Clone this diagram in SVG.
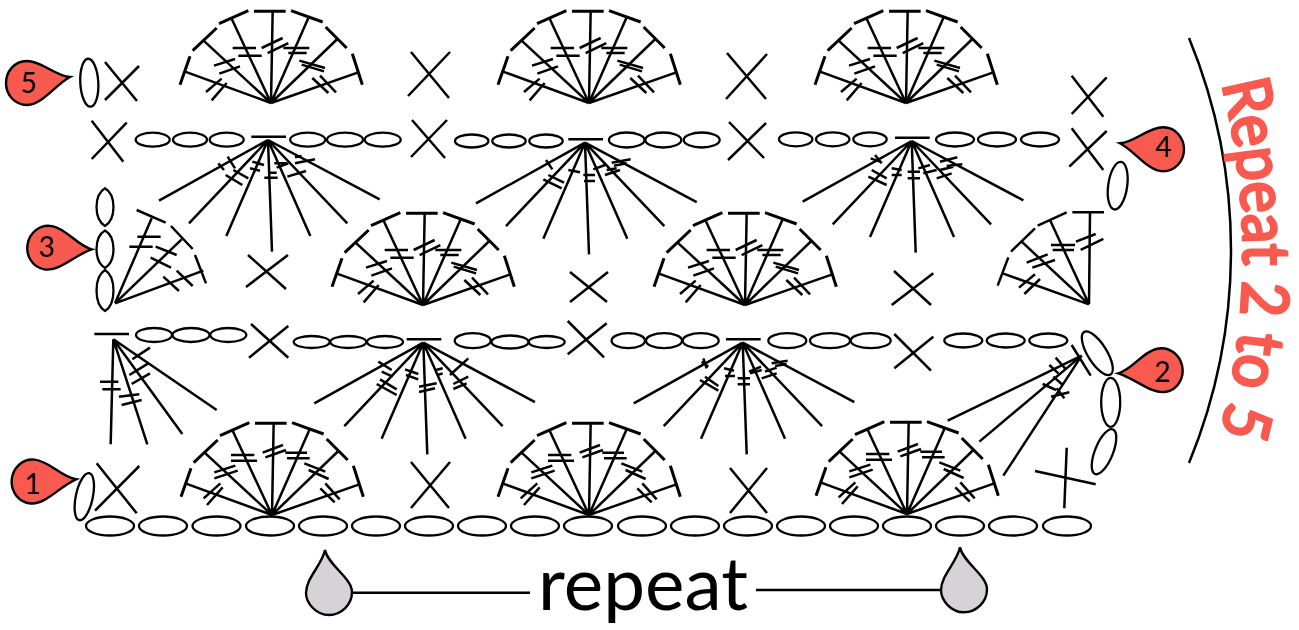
<svg xmlns="http://www.w3.org/2000/svg" width="1299" height="630" viewBox="0 0 1299 630">
<style>
.z{fill:none;stroke:#000;stroke-width:7.5}
.t{fill:none;stroke:#000;stroke-width:2.5}
.o{fill:none;stroke:#000;stroke-width:2.3}
.d{fill:#f85a50;stroke:#000;stroke-width:2.4}
.g{fill:#d5d2d8;stroke:#000;stroke-width:2.4}
.n{font-family:"Lato","Noto Sans",sans-serif;font-size:28px;fill:#000;text-anchor:middle}
</style>
<defs>
<g id="fan" class="z" transform="scale(.33333) translate(-813,-310)"><path d="M813,310L818,35M813,310L925,55M813,310L1012,118M813,310L1075,218M813,310L695,57M813,310L610,122M813,310L553,215"/><path stroke-width="9" d="M762,35H857M873,33L968,67M977,82L1040,145M1057,162L1087,255M657,72L745,33M578,153L650,85M570,170L540,255"/></g>
<path id="tickA" class="z" transform="scale(.33333) translate(-813,-310)" d="M785,145L848,115M803,160L865,130M850,145H928M865,160H920M698,145H768M715,168H785M898,183L975,205M905,195L972,215M642,198L705,178M658,222L720,200M618,277L665,237M635,302L680,250M937,235L985,280M960,228L1008,278"/>
<path id="tickB" class="z" transform="scale(.33333) translate(-815,-345)" d="M787,158L848,135M795,172L857,150M855,158H920M860,175H928M692,165H762M692,182H770M912,190L975,215M925,210L985,237M642,217L705,197M642,235L712,212M610,295L660,250M620,315L667,262M960,265L1003,307M975,250L1018,298"/>
<g id="ifan" class="z" transform="scale(.33333)"><path d="M0,0L-327,182M0,0L-237,250M0,0L-125,288M0,0L12,335M0,0L127,288M0,0L238,250M0,0L335,178"/><path d="M-50,-10H54"/></g>
<path id="drop" d="M0,0C-15,-1 -28,-16 -43,-16C-56,-16 -64,-5 -64,6C-64,18 -55,28 -43,28C-28,28 -15,8 0,0Z"/>
<path id="gdrop" d="M0,0C3,15 27,28 27,42C27,55 16,65 4,65C-9,65 -19,53 -19,43C-19,28 -3,15 0,0Z"/>
</defs>

<g id="connectors" class="t"><path d="M352,592.700H530M756,590H941"/></g>

<g id="row1-base" class="o">
<ellipse cx="110" cy="526" rx="24" ry="9.500"/><ellipse cx="163" cy="526" rx="24" ry="9.500"/><ellipse cx="216.500" cy="526" rx="24" ry="9.500"/><ellipse cx="270" cy="526" rx="24" ry="9.500"/><ellipse cx="323" cy="526" rx="24" ry="9.500"/><ellipse cx="376" cy="526" rx="24" ry="9.500"/><ellipse cx="429" cy="526" rx="24" ry="9.500"/><ellipse cx="482" cy="526" rx="24" ry="9.500"/><ellipse cx="535" cy="526" rx="24" ry="9.500"/><ellipse cx="588" cy="526" rx="24" ry="9.500"/><ellipse cx="642" cy="526" rx="24" ry="9.500"/><ellipse cx="695" cy="526" rx="24" ry="9.500"/><ellipse cx="748" cy="526" rx="24" ry="9.500"/><ellipse cx="801" cy="526" rx="24" ry="9.500"/><ellipse cx="854" cy="526" rx="24" ry="9.500"/><ellipse cx="907" cy="526" rx="24" ry="9.500"/><ellipse cx="960" cy="526" rx="24" ry="9.500"/><ellipse cx="1013" cy="526" rx="24" ry="9.500"/><ellipse cx="1067" cy="526" rx="24" ry="9.500"/>
</g>

<g id="chains-row2" class="o">
<ellipse cx="154" cy="335" rx="18" ry="7"/><ellipse cx="191" cy="335" rx="18.500" ry="7"/><ellipse cx="228.300" cy="335" rx="18" ry="7"/>
<ellipse cx="311.700" cy="342" rx="18" ry="6"/><ellipse cx="348.300" cy="342" rx="18" ry="6"/><ellipse cx="385" cy="342" rx="18" ry="6"/>
<ellipse cx="472.700" cy="340.700" rx="18" ry="7.500"/><ellipse cx="510" cy="342" rx="18.500" ry="6.500"/><ellipse cx="546.700" cy="342" rx="18" ry="6"/>
<ellipse cx="628.300" cy="340.700" rx="16.700" ry="7.500"/><ellipse cx="664" cy="340.700" rx="18" ry="7.500"/><ellipse cx="700.700" cy="340.700" rx="18" ry="7.500"/>
<ellipse cx="787.300" cy="340.700" rx="19" ry="7.500"/><ellipse cx="830" cy="340.700" rx="20" ry="7.500"/><ellipse cx="870.700" cy="340.700" rx="20" ry="7.500"/>
<ellipse cx="963.300" cy="340.500" rx="19" ry="7"/><ellipse cx="1005.700" cy="340.500" rx="19" ry="7"/><ellipse cx="1048.300" cy="340.500" rx="19" ry="7"/>
</g>
<g id="chains-row4" class="o">
<ellipse cx="152.700" cy="139.700" rx="17" ry="7"/><ellipse cx="190" cy="139.700" rx="17" ry="7"/><ellipse cx="226.700" cy="139.700" rx="17" ry="7"/>
<ellipse cx="307.700" cy="139.700" rx="17.500" ry="7"/><ellipse cx="345" cy="139.700" rx="18" ry="7"/><ellipse cx="382.700" cy="139.700" rx="18" ry="7"/>
<ellipse cx="471.700" cy="141" rx="16.700" ry="6.500"/><ellipse cx="509" cy="141" rx="16.700" ry="6.500"/><ellipse cx="546" cy="141" rx="16.700" ry="6.500"/>
<ellipse cx="626.700" cy="140" rx="17.800" ry="7.500"/><ellipse cx="663.300" cy="140" rx="18" ry="7.500"/><ellipse cx="701.700" cy="140" rx="18" ry="7.500"/>
<ellipse cx="795.700" cy="139.300" rx="16.700" ry="7"/><ellipse cx="832.700" cy="139.300" rx="16.700" ry="7"/><ellipse cx="870" cy="139.300" rx="16.700" ry="7"/>
<ellipse cx="955" cy="139.500" rx="19" ry="7"/><ellipse cx="997" cy="139.500" rx="19" ry="7"/><ellipse cx="1040" cy="139.500" rx="19" ry="7"/>
</g>
<g id="turning-chains" class="o">
<ellipse cx="89.300" cy="82.700" rx="9" ry="24" transform="rotate(-3 89.300 82.700)"/>
<path d="M105,188.300C93.700,195 93.700,219 105,226C116.300,219 116.300,195 105,188.300Z"/>
<path d="M105,230.500C93.700,237 93.700,261 105,268C116.300,261 116.300,237 105,230.500Z"/>
<path d="M105,270C93.700,277 93.700,304 105,311C116.300,304 116.300,277 105,270Z"/>
<ellipse cx="84.300" cy="496.700" rx="8.500" ry="24" transform="rotate(12 84.300 496.700)"/>
<ellipse cx="1117.700" cy="185.700" rx="9.500" ry="24" transform="rotate(8 1117.700 185.700)"/>
<ellipse cx="1097.300" cy="353.300" rx="9.500" ry="25" transform="rotate(-32 1097.300 353.300)"/>
<ellipse cx="1110.700" cy="402.300" rx="9.500" ry="24.500"/>
<ellipse cx="1104" cy="451.700" rx="9" ry="24" transform="rotate(22 1104 451.700)"/>
</g>

<g id="crosses" class="t">
<path id="x1" d="M105,62L137,101M105,100L139,66"/>
<path id="x2" d="M411,52L449,98M408,96L450,52"/>
<path id="x3" d="M727,53L766,99M726,99L767,54"/>
<path id="x4" d="M1071.700,75.700L1103.300,116.700M1071.700,114L1106.700,77.300"/>
<path id="x5" d="M91.700,120.700L123.300,161.700M91.700,159L126.700,122.700"/>
<path id="x6" d="M412,120L445,158M411,157L447,120"/>
<path id="x7" d="M729,122L764,158M728,160L766,123"/>
<path id="x8" d="M1071.700,128.300L1103.300,170M1069.300,166.700L1106.700,131"/>
<path id="x9" d="M248,255L286,289M246,287L288,255"/>
<path id="x10" d="M570,272L607,302M570,302L608,272"/>
<path id="x11" d="M894,271L931,305M891.700,305L933.300,273.300"/>
<path id="x12" d="M251,324L288.300,357.700M249,357.700L288.300,326"/>
<path id="x13" d="M567.700,321L604,357.300M567.700,354.300L606.700,323.300"/>
<path id="x14" d="M894.300,334L931,370.700M894.300,368.300L933.300,336.700"/>
<path id="x15" d="M96.700,463.300L136.700,513.300M95,510.700L139.300,466"/>
<path id="x16" d="M411,462L449,508M411,508L450,462"/>
<path id="x17" d="M730,468L767,513M730,513L767,468"/>
<path id="x18" d="M1066.700,447.700L1064.300,508.300M1035,471L1095.700,484.300"/>
</g>

<g id="fan-r5-1"><use href="#fan" x="271" y="103"/><use href="#tickA" x="271" y="103"/></g>
<g id="fan-r5-2"><use href="#fan" x="589" y="103"/><use href="#tickA" x="589" y="103"/></g>
<g id="fan-r5-3"><use href="#fan" x="906" y="103"/><use href="#tickA" x="906" y="103"/></g>
<g id="fan-r3-1"><use href="#fan" x="423" y="305"/><use href="#tickA" x="423" y="305"/></g>
<g id="fan-r3-2"><use href="#fan" x="745" y="305"/><use href="#tickA" x="745" y="305"/></g>
<g id="fan-r1-1"><use href="#fan" x="272" y="515"/><use href="#tickB" x="272" y="515"/></g>
<g id="fan-r1-2"><use href="#fan" x="589" y="515"/><use href="#tickB" x="589" y="515"/></g>
<g id="fan-r1-3"><use href="#fan" x="907" y="514"/><use href="#tickB" x="907" y="514"/></g>

<g id="fan-r3-left" class="z" transform="translate(0,180) scale(.33333)"><path d="M345,370L455,115M345,370L545,178M345,370L610,272M410,90L497,128M513,138L578,207M585,225L618,310M412,170H482M388,200H458M467,200L530,225M452,233L513,263M530,272L578,318M490,290L537,333"/></g>
<g id="fan-r3-right" class="z" transform="translate(870,20) scale(.33333)"><path d="M657,853L660,578M657,853L540,600M657,853L455,665M657,853L398,760M607,577H702M503,617L590,577M423,695L495,625M415,712L383,797M632,690L700,657M618,665L677,642M543,675H615M548,690H612M470,728L533,703M487,743L555,720M447,803L495,763M463,822L510,777"/></g>
<g id="fan-r2-left" class="z" transform="translate(0,180) scale(.33333)"><path d="M340,478L332,793M340,478L442,793M340,478L547,762M340,478L650,690M283,462H387M300,605H355M307,628H362M357,650L418,643M365,675L425,660M397,538L450,503M388,585L445,550M395,612L450,580"/></g>
<g id="fan-r2-right" class="z" transform="translate(800,310) scale(.33333)"><path d="M845,137L443,332M845,137L538,395M845,137L610,497M815,105L872,197M748,165L775,190M767,143L795,175M728,222L768,240M760,200L785,222M753,260L808,247M770,235L793,265"/></g>

<g id="ifan-r4-1"><use href="#ifan" x="268" y="140"/><path class="z" transform="scale(.33333)" d="M683,470L705,505M655,490L672,510M677,525L727,555M700,510L745,535M757,485L792,495M750,505L780,512M793,533H833M810,518H830M823,490H860M830,503L865,490M885,472L905,468M885,490L945,478M862,530L918,513"/></g>
<g id="ifan-r4-2"><use href="#ifan" x="585" y="142.700"/><path class="z" transform="translate(420,120) scale(.33333)" d="M378,120L397,148M370,178L425,205M385,165L432,188M445,150L480,157M490,165H525M492,183H525M520,148L555,135M555,165L600,150M560,150L590,145M575,128L632,118M582,137L620,130"/></g>
<g id="ifan-r4-3"><use href="#ifan" x="911.700" y="141"/><path class="z" transform="translate(740,120) scale(.33333)" d="M405,105L425,130M392,115L420,125M385,170L440,195M395,150L440,175M455,145L485,150M455,165H485M503,155H540M503,175H540M535,145L570,135M550,160L590,150M590,175L635,160M600,150L640,140M600,125L652,112M620,138L667,133"/></g>
<g id="ifan-r2-1"><use href="#ifan" x="423.300" y="342.700"/><path class="z" transform="translate(300,320) scale(.33333)" d="M235,125L275,150M245,155L278,170M230,192L290,225M240,178L290,208M315,148L355,162M318,165L355,178M357,200L410,190M357,216L405,205M408,150L428,145M412,165L428,160M450,165L505,115M460,192L505,170M460,207L500,190"/></g>
<g id="ifan-r2-2"><use href="#ifan" x="742.700" y="342.700"/><path class="z" transform="translate(600,320) scale(.33333)" d="M305,125L325,140M310,115L320,145M300,180L355,212M315,170L355,198M372,145L402,152M375,168H405M413,175H450M413,193H450M447,155L483,140M450,160L485,150M485,175L530,160M495,155L530,143M515,130L563,122M525,138L560,132"/></g>

<g id="marker-1"><use href="#drop" class="d" transform="translate(76,479.300) rotate(5)"/><text class="n" x="32.700" y="494">1</text></g>
<g id="marker-2"><use href="#drop" class="d" transform="translate(1118.300,373.300) scale(-1,1) rotate(12)"/><text class="n" x="1162.300" y="382">2</text></g>
<g id="marker-3"><use href="#drop" class="d" transform="translate(91.700,249.300) rotate(10)"/><text class="n" x="46.700" y="257">3</text></g>
<g id="marker-4"><use href="#drop" class="d" transform="translate(1120,143.300) scale(-1,1)"/><text class="n" x="1163.300" y="157">4</text></g>
<g id="marker-5"><use href="#drop" class="d" transform="translate(70,77)"/><text class="n" x="28.500" y="93">5</text></g>

<g id="repeat-left"><use href="#gdrop" class="g" transform="translate(325,550)"/></g>
<g id="repeat-right"><use href="#gdrop" class="g" transform="translate(960,547.300)"/></g>
<text id="repeat-label" x="538" y="610" font-family="Lato,'Noto Sans',sans-serif" font-size="74" fill="#000" textLength="210" lengthAdjust="spacingAndGlyphs">repeat</text>

<g id="bracket"><path class="t" d="M1189,38A558.600,558.600 0 0 1 1189,463"/></g>
<path id="rp" fill="none" d="M1206,30A699,699 0 0 1 1206,480"/>
<text id="repeat-2-5" font-family="Lato,'Noto Sans',sans-serif" font-size="65" fill="#f85a50" stroke="#f85a50" stroke-width="3"><textPath href="#rp" startOffset="56" textLength="354" lengthAdjust="spacingAndGlyphs">Repeat 2 to 5</textPath></text>
</svg>
